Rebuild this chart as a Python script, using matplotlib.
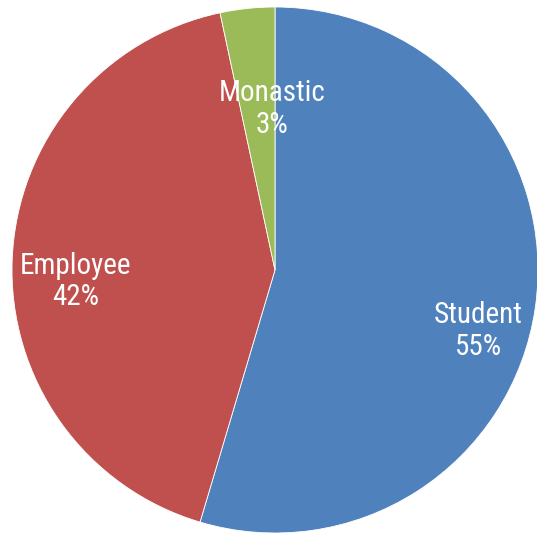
import matplotlib.pyplot as plt

categories = ["Student", "Employee", "Monastic"]
shares = [54.6, 42.05, 3.35]
share_labels = ["55%", "42%", "3%"]
colors = ["#4F81BD", "#C0504D", "#9BBB59"]

# label centres in pie units (radius = 1)
label_xy = [(0.772, -0.232), (-0.757, -0.045), (-0.011, 0.612)]

fig = plt.figure(figsize=(5.37, 5.34), dpi=100)
W, H = 537, 534
cx, cy, r = 275, 270, 263
ax = fig.add_axes([(cx - r) / W, (H - cy - r) / H, 2 * r / W, 2 * r / H])

wedges, _ = ax.pie(shares, colors=colors, startangle=90, counterclock=False,
                   wedgeprops=dict(edgecolor="white", linewidth=0.6))
ax.set_xlim(-1, 1)
ax.set_ylim(-1, 1)
ax.set_aspect("equal")
ax.axis("off")

font = ["Liberation Sans Narrow", "Roboto Condensed", "DejaVu Sans"]
for name, lab, (x, y) in zip(categories, share_labels, label_xy):
    ax.text(x, y, f"{name}\n{lab}", ha="center", va="center", color="white",
            fontsize=21, family=font, linespacing=1.15)

fig.savefig("out.png", dpi=100)
